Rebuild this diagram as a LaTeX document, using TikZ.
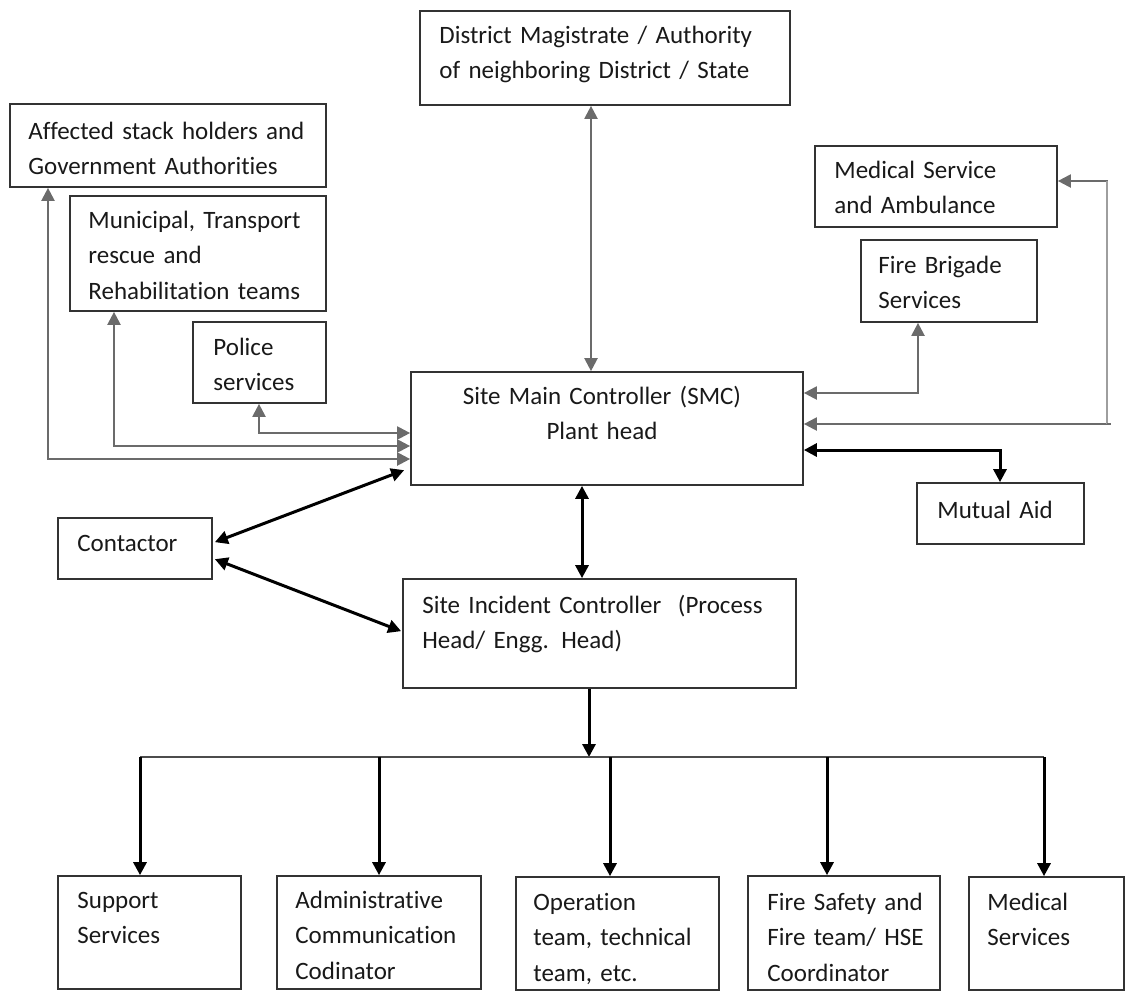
\documentclass[tikz,border=0pt]{standalone}
\usepackage{fontspec}
\setmainfont{Carlito}[Ligatures=NoCommon]
\usetikzlibrary{arrows.meta,calc,fit}
\begin{document}
\begin{tikzpicture}[x=0.5pt,y=-0.5pt,
  box/.style={draw=black!80,line width=0.85pt,inner sep=0pt},
  txt/.style={anchor=base west,inner sep=0pt,align=left,text width=#1,
    font=\fontsize{12.5}{17.75}\selectfont,text=black!90},
  txt/.default=175pt,
  ctxt/.style={anchor=base,inner sep=0pt,align=center,text width=190pt,
    font=\fontsize{12.5}{17.75}\selectfont,text=black!90},
  tipx/.tip={Triangle[length=6.5pt,width=6.5pt]},
  garr/.style={draw=black!58,line width=1.1pt,tipx-tipx},
  glight/.style={draw=black!38,line width=1.1pt},
  barr/.style={draw=black,line width=1.5pt,tipx-tipx},
  barrone/.style={draw=black,line width=1.5pt,-tipx},
  busline/.style={draw=black!70,line width=1.1pt}]
\useasboundingbox (0,0) rectangle (1129,992);

% boxes and texts
\node[box,fit={(420,11)(790,105)}] (dm) {};
\node[txt=185pt] (dmt) at (439,43) {District Magistrate / Authority\\of neighboring District / State};
\node[box,fit={(10,104)(326,187)}] (aff) {};
\node[txt] (afft) at (28,139) {Affected stack holders and\\Government Authorities};
\node[box,fit={(70,196)(326,311)}] (mun) {};
\node[txt] (munt) at (88,228) {Municipal, Transport\\rescue and\\Rehabilitation teams};
\node[box,fit={(193,322)(326,403)}] (pol) {};
\node[txt] (polt) at (213,355) {Police\\services};
\node[box,fit={(815,146)(1057,227)}] (med) {};
\node[txt] (medt) at (834,178) {Medical Service\\and Ambulance};
\node[box,fit={(861,240)(1037,322)}] (fire) {};
\node[txt] (firet) at (878,273) {Fire Brigade\\Services};
\node[box,fit={(411,372)(803,485)}] (smc) {};
\node[ctxt] (smct) at (602,404) {Site Main Controller (SMC)\\Plant head};
\node[box,fit={(917,483)(1084,544)}] (mut) {};
\node[txt] (mutt) at (937,518) {Mutual Aid};
\node[box,fit={(58,518)(212,579)}] (con) {};
\node[txt] (cont) at (77,551) {Contactor};
\node[box,fit={(403,579)(796,688)}] (sic) {};
\node[txt=190pt] (sict) at (422,613) {Site Incident Controller\ \ (Process\\Head/ Engg. Head)};

\node[box,fit={(58,876)(241,989)}] (sup) {};
\node[txt] (supt) at (77,908) {Support\\Services};
\node[box,fit={(277,876)(481,989)}] (adm) {};
\node[txt] (admt) at (295,908) {Administrative\\Communication\\Codinator};
\node[box,fit={(516,877)(719,990)}] (ops) {};
\node[txt] (opst) at (533,910) {Operation\\team, technical\\team, etc.};
\node[box,fit={(748,876)(940,990)}] (fsf) {};
\node[txt] (fsft) at (767,910) {Fire Safety and\\Fire team/ HSE\\Coordinator};
\node[box,fit={(969,877)(1124,990)}] (ms) {};
\node[txt] (mst) at (987,910) {Medical\\Services};

% grey connectors
\coordinate (a1) at (48,459);
\draw[garr] (aff.south -| a1) -- (a1) -- (a1 -| smc.west);
\coordinate (m1) at (114,446);
\draw[garr] (mun.south -| m1) -- (m1) -- (m1 -| smc.west);
\coordinate (p1) at (259,433);
\draw[garr] (pol.south -| p1) -- (p1) -- (p1 -| smc.west);
\coordinate (d1) at (591,250);
\draw[garr] (dm.south -| d1) -- (smc.north -| d1);
\coordinate (f1) at (918,393);
\draw[garr] (fire.south -| f1) -- (f1) -- (f1 -| smc.east);
\coordinate (r1) at (1107,181);
\coordinate (r2) at (1107,424);
\coordinate (r3) at (1111,424);
\draw[garr] (r1 -| med.east) -- (r1) -- (r2) -- (r2 -| smc.east);
\draw[glight] (r1) -- (r2);
\draw[draw=black!58,line width=1.1pt] (r2) -- (r3);

% black connectors
\coordinate (u1) at (1000,450);
\draw[barr] (u1 -| smc.east) -- (u1) -- (mut.north -| u1);
\coordinate (s1) at (582,530);
\draw[barr] (smc.south -| s1) -- (sic.north -| s1);
\draw[barr] ($(con.north east)+(2,25)$) -- ($(smc.north west)+(-6,99)$);
\draw[barr] ($(con.north east)+(2,42)$) -- ($(sic.north west)+(-1,53)$);

% distribution
\coordinate (b0) at (589,757);
\draw[barrone] (sic.south -| b0) -- (b0);
\coordinate (bl) at (140,757);
\coordinate (bb) at (379,757);
\coordinate (bc) at (610,757);
\coordinate (bd) at (827,757);
\coordinate (br) at (1044,757);
\draw[busline] (bl) -- (br);
\draw[barrone] (bl) -- (sup.north -| bl);
\draw[barrone] (bb) -- (adm.north -| bb);
\draw[barrone] (bc) -- (ops.north -| bc);
\draw[barrone] (bd) -- (fsf.north -| bd);
\draw[barrone] (br) -- (ms.north -| br);
\end{tikzpicture}
\end{document}
